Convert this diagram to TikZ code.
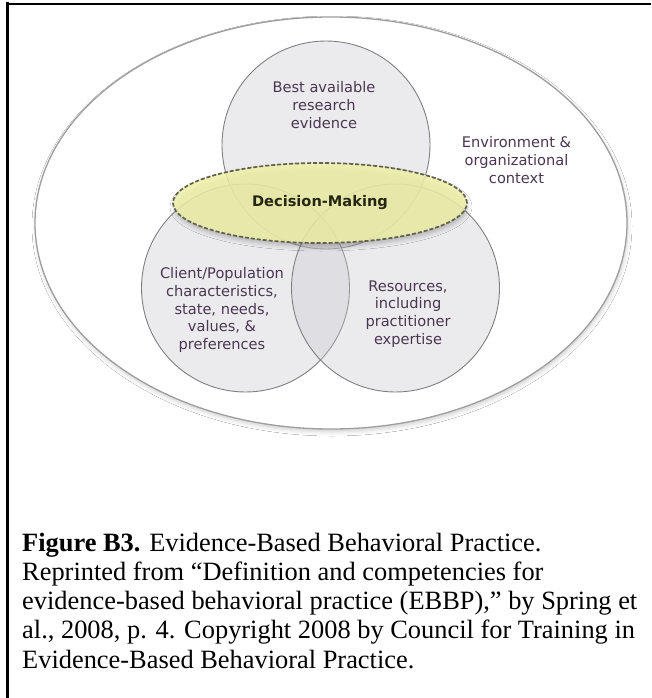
\documentclass[tikz,border=0pt]{standalone}
\usepackage{fontspec}
\setmainfont{Liberation Serif}
\newfontfamily\diagfont{DejaVu Sans}
\usetikzlibrary{shapes.geometric,shadows.blur}

\definecolor{labelpurple}{RGB}{74,54,82}
\definecolor{circlefill}{RGB}{200,200,208}
\definecolor{circleedge}{RGB}{128,128,128}
\definecolor{outeredge}{RGB}{158,158,158}
\definecolor{dmfill}{RGB}{240,242,168}
\definecolor{dmedge}{RGB}{96,96,76}
\definecolor{dmtext}{RGB}{38,38,20}

\tikzset{
  outer/.style={ellipse, draw=outeredge, line width=1.3pt, fill=white,
    inner sep=0pt, minimum width=592pt, minimum height=412pt,
    blur shadow={shadow xshift=1pt, shadow yshift=-3pt, shadow blur radius=4pt, shadow opacity=18}},
  venn/.style={circle, draw=circleedge, line width=0.9pt, fill=circlefill,
    fill opacity=0.36, draw opacity=1, inner sep=0pt, minimum size=208pt},
  decision/.style={ellipse, draw=dmedge, line width=1.7pt, dash pattern=on 4pt off 2pt,
    fill=dmfill, fill opacity=0.85, text opacity=1, inner sep=0pt,
    minimum width=294pt, minimum height=80pt, text=dmtext,
    font=\diagfont\fontsize{14.6}{17.8}\selectfont\bfseries,
    blur shadow={shadow xshift=1pt, shadow yshift=-4pt, shadow blur radius=4pt, shadow opacity=25}},
  vlabel/.style={align=center, text=labelpurple, inner sep=0pt,
    font=\diagfont\fontsize{14.6}{17.8}\selectfont},
  capline/.style={anchor=base west, inner sep=0pt,
    font=\fontsize{26.4}{29.3}\selectfont}
}

\begin{document}
\begin{tikzpicture}[x=1pt,y=-1pt]
\useasboundingbox (0,0) rectangle (651,698);
\fill[white] (0,0) rectangle (651,698);

% cell rules
\draw[line width=3pt] (7.5,2.5) -- (7.5,698);
\draw[line width=2pt] (6,4) -- (651,4);

% environment
\node[outer] (env) at (331,223) {};

% three overlapping circles
\node[venn] (research) at (326,145) {};
\node[venn] (client) at (245.5,288) {};
\node[venn] (resources) at (395.5,288) {};

% decision-making core
\node[decision] (dm) at (320,203) {Decision-Making};

% labels
\node[vlabel] (researchtxt) at (324,105) {Best available\\research\\evidence};
\node[vlabel] (clienttxt) at (222,310) {Client/Population\\characteristics,\\state, needs,\\values, \&\\preferences};
\node[vlabel] (resourcestxt) at (408,314) {Resources,\\including\\practitioner\\expertise};
\node[vlabel] (envtxt) at (516.5,160) {Environment \&\\organizational\\context};

% caption
\node[capline] (cap1) at (22,551) {\textbf{Figure B3.} Evidence-Based Behavioral Practice.};
\node[capline] (cap2) at (22,580.3) {Reprinted from “Definition and competencies for};
\node[capline] (cap3) at (22,609.6) {evidence-based behavioral practice (EBBP),” by Spring et};
\node[capline] (cap4) at (22,638.9) {al., 2008, p. 4. Copyright 2008 by Council for Training in};
\node[capline] (cap5) at (22,668.2) {Evidence-Based Behavioral Practice.};
\end{tikzpicture}
\end{document}
